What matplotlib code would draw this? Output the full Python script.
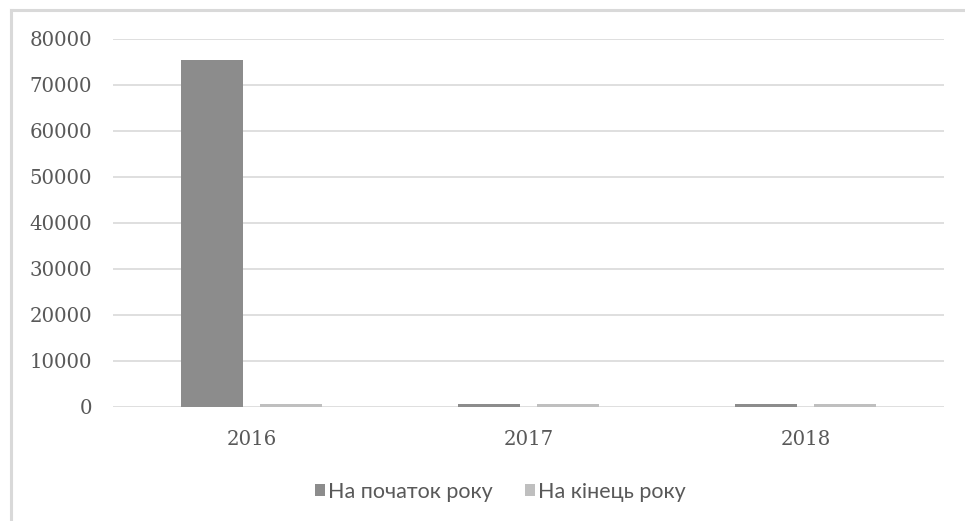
import numpy as np
import matplotlib.pyplot as plt
from matplotlib.lines import Line2D

years = ["2016", "2017", "2018"]
start_of_year = [75300, 650, 650]
end_of_year = [650, 650, 650]
series_names = ["На початок року", "На кінець року"]
yticks = [0, 10000, 20000, 30000, 40000, 50000, 60000, 70000, 80000]

dark = "#8c8c8c"
light = "#bfbfbf"
grid = "#d9d9d9"
text_col = "#595959"

W, H = 965, 521
fig = plt.figure(figsize=(W / 100, H / 100), dpi=100)
ax = fig.add_axes([113 / W, 1 - 406.5 / H, (944 - 113) / W, (406.5 - 38.7) / H])

x = np.arange(len(years))
w = 0.224
off = 0.143
ax.bar(x - off, start_of_year, w, color=dark, label=series_names[0], zorder=3)
ax.bar(x + off, end_of_year, w, color=light, label=series_names[1], zorder=3)

ax.set_xlim(-0.5, len(years) - 0.5)
ax.set_ylim(0, 80000)
ax.set_yticks(yticks)
ax.set_yticklabels([str(t) for t in yticks], family="DejaVu Serif",
                   fontsize=14.2, color=text_col)
ax.set_xticks(x)
ax.set_xticklabels(years, family="DejaVu Serif", fontsize=14.2, color=text_col)
ax.tick_params(length=0)
ax.tick_params(axis="y", pad=15)
ax.tick_params(axis="x", pad=17)
ax.yaxis.grid(True, color=grid, lw=1.2, zorder=0)
for s in ax.spines.values():
    s.set_visible(False)

leg = fig.legend(loc="center", bbox_to_anchor=(500 / W, 1 - 492 / H), ncol=2,
                 frameon=False, prop={"family": "Lato", "size": 15.5},
                 handlelength=0.5, handleheight=0.5, handletextpad=0.1,
                 columnspacing=1.5)
for t in leg.get_texts():
    t.set_color(text_col)

# outer chart border (only top and left edges fall inside the image)
fig.add_artist(Line2D([11 / W, 1], [1 - 10 / H, 1 - 10 / H], color=grid, lw=2.2))
fig.add_artist(Line2D([11 / W, 11 / W], [0, 1 - 10 / H], color=grid, lw=2.2))

fig.savefig("out.png", dpi=100)
